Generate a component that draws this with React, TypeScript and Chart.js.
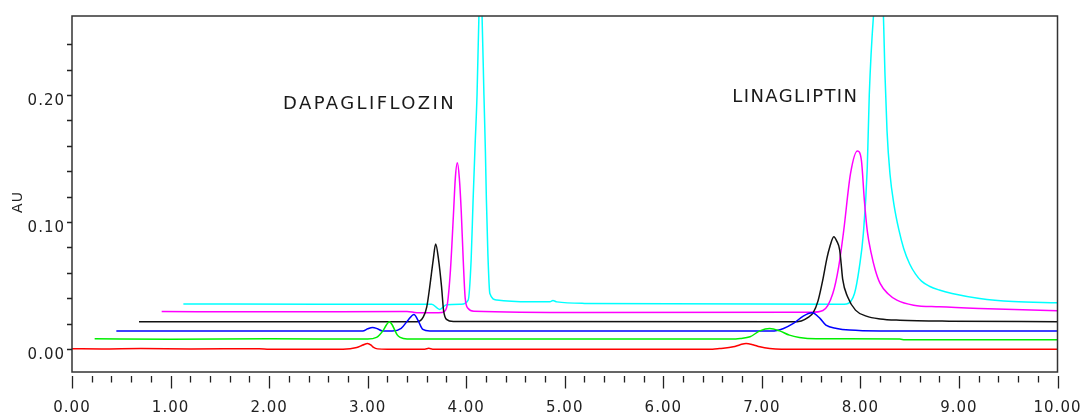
import { useEffect, useRef } from 'react';
import { Chart, registerables } from 'chart.js';

Chart.register(...registerables);

// ---- axes ----
const xMin = 0;
const xMax = 10;
const yMin = -0.018;
const yMax = 0.2622;
const xMinorStep = 0.2;
const xMajorStep = 1;
const yMinorStep = 0.02;
const yMajorStep = 0.1;
const yTitle = 'AU';

// ---- peak annotations ----
const peakNames = ['DAPAGLIFLOZIN', 'LINAGLIPTIN'];
const peakNameX = [3.02, 7.34];
const peakNameY = [0.193, 0.1985];
const peakNameSpacing = ['2.4px', '1.4px'];

// ---- traces: [time (min), AU] ----
const red: [number, number][] = [
  [0, 0.0003], [0.3, 0.0001], [0.7, 0.0004], [1.2, 0.0002], [1.9, 0.0003], [2.0, 0],
  [2.75, 0], [2.89, 0.0013], [2.95, 0.0032], [3.0, 0.0045], [3.04, 0.0028], [3.06, 0.0013],
  [3.1, 0.0002], [3.2, 0], [3.58, 0], [3.62, 0.0006], [3.66, 0], [6.5, 0], [6.57, 0.0005],
  [6.71, 0.0018], [6.78, 0.0035], [6.84, 0.0045], [6.91, 0.0035], [6.98, 0.0018],
  [7.08, 0.0005], [7.2, 0], [10, 0],
];

const green: [number, number][] = [
  [0.23, 0.0082], [1.0, 0.0078], [2.0, 0.0081], [3.0, 0.0079], [3.09, 0.0092], [3.12, 0.0112],
  [3.16, 0.015], [3.19, 0.019], [3.22, 0.0215], [3.25, 0.019], [3.275, 0.015], [3.3, 0.0112],
  [3.33, 0.0092], [3.4, 0.008], [6.7, 0.0079], [6.78, 0.0084], [6.88, 0.0097], [6.98, 0.0144],
  [7.08, 0.0163], [7.18, 0.0144], [7.28, 0.011], [7.38, 0.0092], [7.55, 0.0082], [8.4, 0.0079],
  [8.45, 0.0073], [10, 0.0073],
];

const blue: [number, number][] = [
  [0.45, 0.0142], [1.5, 0.0143], [2.95, 0.0142], [3.0, 0.016], [3.05, 0.0171], [3.1, 0.016],
  [3.15, 0.0143], [3.25, 0.0142], [3.34, 0.0163], [3.41, 0.0228], [3.47, 0.0273], [3.51, 0.0228],
  [3.56, 0.0155], [3.63, 0.0143], [7.1, 0.0142], [7.22, 0.0163], [7.32, 0.0202], [7.42, 0.026],
  [7.51, 0.0286], [7.59, 0.0242], [7.65, 0.0189], [7.76, 0.0163], [7.89, 0.015], [8.2, 0.0143],
  [10, 0.0142],
];

const black: [number, number][] = [
  [0.68, 0.0215], [3.5, 0.0215], [3.565, 0.0254], [3.6, 0.0333], [3.63, 0.049], [3.665, 0.0701],
  [3.69, 0.0827], [3.72, 0.0701], [3.75, 0.049], [3.77, 0.0307], [3.8, 0.0234], [3.87, 0.0217],
  [7.3, 0.0215], [7.4, 0.0222], [7.47, 0.025], [7.52, 0.0285], [7.57, 0.038], [7.62, 0.0551],
  [7.66, 0.0715], [7.69, 0.0806], [7.73, 0.0884], [7.76, 0.085], [7.79, 0.078], [7.805, 0.067],
  [7.82, 0.0551], [7.87, 0.0412], [7.95, 0.0307], [8.06, 0.026], [8.2, 0.0238], [8.4, 0.0228],
  [8.9, 0.022], [10, 0.0216],
];

const magenta: [number, number][] = [
  [0.91, 0.0296], [2.0, 0.0294], [3.4, 0.0296], [3.5, 0.0287], [3.72, 0.0287], [3.78, 0.0298],
  [3.81, 0.036], [3.84, 0.062], [3.87, 0.105], [3.89, 0.135], [3.91, 0.1467], [3.93, 0.135],
  [3.95, 0.108], [3.97, 0.07], [3.99, 0.04], [4.02, 0.032], [4.08, 0.0298], [5.2, 0.0288],
  [7.5, 0.029], [7.62, 0.0304], [7.72, 0.0438], [7.78, 0.065], [7.83, 0.0929], [7.9, 0.1383],
  [7.97, 0.156], [8.01, 0.1488], [8.04, 0.1173], [8.07, 0.0929], [8.11, 0.0753], [8.15, 0.0625],
  [8.2, 0.0517], [8.28, 0.0436], [8.37, 0.0386], [8.54, 0.0346], [8.8, 0.0333], [9.21, 0.032],
  [10, 0.0302],
];

const cyan: [number, number][] = [
  [1.13, 0.0356], [2.5, 0.0354], [3.65, 0.0354], [3.73, 0.0312], [3.8, 0.035], [3.95, 0.0354],
  [4.02, 0.0386], [4.05, 0.07], [4.07, 0.1173], [4.09, 0.16], [4.11, 0.2], [4.13, 0.265],
  [4.145, 0.29], [4.16, 0.265], [4.18, 0.2], [4.195, 0.155], [4.205, 0.1173], [4.22, 0.075],
  [4.24, 0.0438], [4.31, 0.0386], [4.65, 0.0372], [4.85, 0.0372], [4.88, 0.0382], [4.92, 0.0372],
  [5.2, 0.036], [7.8, 0.0354], [7.86, 0.0356], [7.94, 0.0438], [7.99, 0.0648], [8.03, 0.091],
  [8.07, 0.1435], [8.09, 0.2], [8.14, 0.27], [8.19, 0.3], [8.23, 0.27], [8.25, 0.215],
  [8.27, 0.172], [8.3, 0.138], [8.34, 0.114], [8.39, 0.094], [8.44, 0.079], [8.5, 0.067],
  [8.56, 0.059], [8.62, 0.0535], [8.7, 0.0495], [8.8, 0.0465], [8.93, 0.0438], [9.21, 0.0399],
  [9.55, 0.0375], [10, 0.0365],
];

const traces = [red, green, blue, black, magenta, cyan];
const traceNames = ['Run 1', 'Run 2', 'Run 3', 'Run 4', 'Run 5', 'Run 6'];
const traceColors = ['#ff0000', '#00ee00', '#0000ff', '#111111', '#ff00ff', '#00ffff'];

const isMultiple = (v: number, step: number) => Math.abs(v / step - Math.round(v / step)) < 1e-6;

const FONT = '"DejaVu Sans", Verdana, sans-serif';

const framePlugin = {
  id: 'frameAndTicks',
  beforeDraw(chart: any) {
    (chart.ctx as any).letterSpacing = '1px';
  },
  afterDraw(chart: any) {
    const { ctx, chartArea: a, scales } = chart;
    ctx.save();
    ctx.strokeStyle = '#333';
    ctx.lineWidth = 1.5;
    ctx.strokeRect(a.left, a.top, a.right - a.left, a.bottom - a.top);

    ctx.strokeStyle = '#222';
    ctx.lineWidth = 1.3;
    ctx.beginPath();
    const ys = scales.y;
    ys.ticks.forEach((t: any) => {
      if (!isMultiple(t.value, yMinorStep)) return;
      const p = Math.round(ys.getPixelForValue(t.value)) + 0.5;
      ctx.moveTo(a.left - 5, p);
      ctx.lineTo(a.left, p);
    });
    const xs = scales.x;
    xs.ticks.forEach((t: any) => {
      if (!isMultiple(t.value, xMinorStep)) return;
      const p = Math.round(xs.getPixelForValue(t.value)) + 0.5;
      const major = isMultiple(t.value, xMajorStep);
      ctx.moveTo(p, a.bottom + 4);
      ctx.lineTo(p, a.bottom + (major ? 16.5 : 10.5));
    });
    ctx.stroke();

    // y-axis title, rotated, slightly below the axis middle as in the source
    ctx.fillStyle = '#222';
    ctx.font = `14px ${FONT}`;
    (ctx as any).letterSpacing = '1px';
    ctx.textAlign = 'center';
    ctx.textBaseline = 'middle';
    ctx.save();
    ctx.translate(18, (a.top + a.bottom) / 2 + 8);
    ctx.rotate(-Math.PI / 2);
    ctx.fillText(yTitle, 0, 0);
    ctx.restore();

    ctx.fillStyle = '#1a1a1a';
    ctx.font = `18px ${FONT}`;
    peakNames.forEach((name, i) => {
      (ctx as any).letterSpacing = peakNameSpacing[i];
      ctx.fillText(name, xs.getPixelForValue(peakNameX[i]), ys.getPixelForValue(peakNameY[i]));
    });
    ctx.restore();
  },
};

export default function App() {
  const ref = useRef<HTMLCanvasElement>(null);
  useEffect(() => {
    const chart = new Chart(ref.current as HTMLCanvasElement, {
      type: 'line',
      data: {
        datasets: traces.map((tr, i) => ({
          label: traceNames[i],
          data: tr.map(([x, y]) => ({ x, y })),
          borderColor: traceColors[i],
          backgroundColor: traceColors[i],
          borderWidth: 1.5,
          pointRadius: 0,
          fill: false,
          cubicInterpolationMode: 'monotone' as const,
        })),
      },
      options: {
        animation: false,
        responsive: false,
        devicePixelRatio: 1,
        layout: { padding: { left: 0, right: 29.5, top: 16, bottom: 0 } },
        plugins: { legend: { display: false }, tooltip: { enabled: false } },
        scales: {
          x: {
            type: 'linear',
            min: xMin,
            max: xMax,
            afterFit: (s: any) => {
              s.height = 40;
              s.paddingLeft = 0;
              s.paddingRight = 0;
            },
            grid: { display: false, drawTicks: false },
            border: { display: false },
            ticks: {
              stepSize: xMinorStep,
              maxTicksLimit: 1000,
              autoSkip: false,
              maxRotation: 0,
              minRotation: 0,
              padding: 27,
              color: '#222',
              font: { family: FONT, size: 15 },
              callback: (v: any) => (isMultiple(Number(v), xMajorStep) ? Number(v).toFixed(2) : ''),
            },
          },
          y: {
            type: 'linear',
            min: yMin,
            max: yMax,
            afterFit: (s: any) => {
              s.width = 72;
              s.paddingTop = 0;
              s.paddingBottom = 0;
            },
            grid: { display: false, drawTicks: false },
            border: { display: false },
            title: { display: false, text: yTitle },
            ticks: {
              stepSize: yMinorStep,
              maxTicksLimit: 1000,
              autoSkip: false,
              padding: 7,
              labelOffset: 6,
              color: '#222',
              font: { family: FONT, size: 15 },
              callback: (v: any) => (isMultiple(Number(v), yMajorStep) ? Number(v).toFixed(2) : ''),
            },
          },
        },
      },
      plugins: [framePlugin],
    } as any);
    return () => chart.destroy();
  }, []);
  return (
    <div style={{ position: 'absolute', left: 0, top: 0, width: 1087, height: 412, background: '#fff' }}>
      <canvas ref={ref} width={1087} height={412} style={{ display: 'block', width: 1087, height: 412 }} />
    </div>
  );
}
